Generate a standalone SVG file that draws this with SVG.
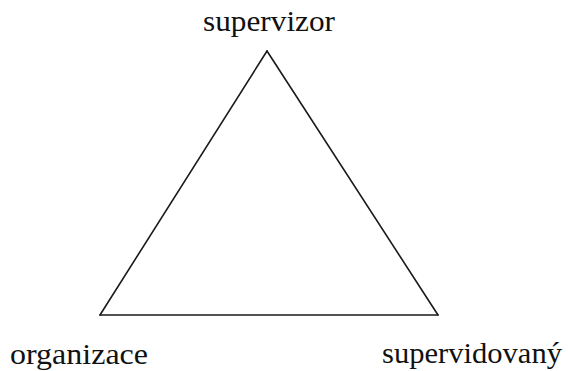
<svg xmlns="http://www.w3.org/2000/svg" width="568" height="371" viewBox="0 0 568 371">
<style>
.lbl{font-family:"Liberation Serif","Times New Roman",serif;font-size:30px;fill:#111}
.edge{stroke:#1a1a1a;stroke-width:1.6;fill:none;stroke-linecap:round;stroke-linejoin:round}
</style>
<rect width="568" height="371" fill="#ffffff"/>
<g id="connectors">
<line class="edge" x1="267" y1="51" x2="100" y2="315"/>
<line class="edge" x1="267" y1="51" x2="438" y2="315"/>
<line class="edge" x1="100" y1="315" x2="438" y2="315"/>
</g>
<g id="supervizor">
<text class="lbl" x="203" y="31" textLength="132" lengthAdjust="spacingAndGlyphs">supervizor</text>
</g>
<g id="organizace">
<text class="lbl" x="10" y="364" textLength="138" lengthAdjust="spacingAndGlyphs">organizace</text>
</g>
<g id="supervidovany">
<text class="lbl" x="382" y="363" textLength="180" lengthAdjust="spacingAndGlyphs">supervidovaný</text>
</g>
</svg>
